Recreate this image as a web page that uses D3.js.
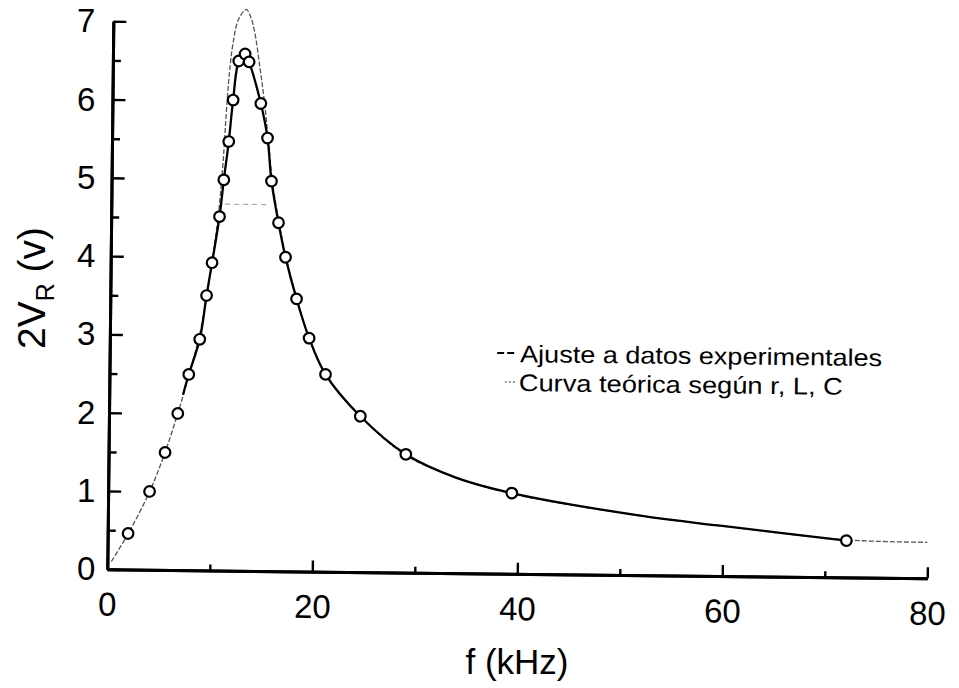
<!DOCTYPE html>
<html>
<head>
<meta charset="utf-8">
<script src="https://cdn.jsdelivr.net/npm/d3@7"></script>
<style>
  html, body { margin: 0; padding: 0; background: #fff; }
  svg { display: block; font-family: "Liberation Sans", Arial, sans-serif; }
</style>
</head>
<body>
<svg id="chart" width="959" height="688"></svg>
<script>
// ---- data ----
const freq = [1.99, 4.04, 5.51, 6.71, 7.74, 8.77, 9.39, 9.89, 10.57, 10.95, 11.39, 11.77, 12.28, 12.89, 13.29, 14.48, 15.17, 15.60, 16.33, 17.05, 18.17, 19.44, 21.08, 24.52, 29.0, 39.38, 72.07];
const volt = [0.46, 1.00, 1.50, 2.00, 2.50, 2.95, 3.51, 3.93, 4.52, 4.99, 5.48, 6.01, 6.51, 6.60, 6.50, 5.97, 5.53, 4.98, 4.45, 4.01, 3.48, 2.98, 2.52, 1.99, 1.51, 1.03, 0.47];

const fitF = [7.2, 7.74, 8.77, 9.39, 9.89, 10.57, 10.95, 11.39, 11.77, 12.28, 12.89, 13.29, 14.48, 15.17, 15.60, 16.33, 17.05, 18.17, 19.44, 21.08, 24.52, 29.0, 33.9, 39.38, 51.94, 59.95, 72.07];
const fitV = [2.24, 2.50, 2.95, 3.51, 3.93, 4.52, 4.99, 5.48, 6.01, 6.51, 6.62, 6.50, 5.97, 5.53, 4.98, 4.45, 4.01, 3.48, 2.98, 2.52, 1.99, 1.51, 1.22, 1.03, 0.76, 0.64, 0.47];

const theoF = [0.39, 1.96, 4.02, 5.48, 6.73, 7.79, 8.75, 9.41, 9.96, 10.51, 10.86, 11.14, 11.41, 11.71, 12.21, 12.96, 13.41, 13.82, 14.34, 14.80, 15.24, 15.68, 16.38, 17.12, 18.21, 19.45, 21.09, 24.54, 28.98, 33.9, 39.42, 51.94, 59.95, 71.97, 79.97];
const theoV = [0.10, 0.45, 0.99, 1.49, 2.01, 2.51, 3.01, 3.51, 4.01, 4.62, 5.22, 5.89, 6.40, 6.74, 7.04, 7.17, 7.07, 6.87, 6.44, 6.02, 5.52, 4.99, 4.45, 4.00, 3.48, 2.98, 2.51, 1.99, 1.50, 1.22, 1.02, 0.76, 0.64, 0.48, 0.46];

const halfPowerF = [11.1, 15.5];
const halfPowerV = 4.68;

const xMajor = [0, 20, 40, 60, 80];
const xMinor = [10, 30, 50, 70];
const yMajor = [0, 1, 2, 3, 4, 5, 6, 7];
const yMinor = [0.5, 1.5, 2.5, 3.5, 4.5, 5.5, 6.5];

const xTitle = "f (kHz)";
const legendFit = "Ajuste a datos experimentales";
const legendTheo = "Curva teórica según r, L, C";

// ---- layout ----
const svg = d3.select("#chart");
svg.append("rect").attr("width", 959).attr("height", 688).attr("fill", "#fff");

const ox = 107.3, oy = 569.3;
const x = d3.scaleLinear().domain([0, 80]).range([0, 820]);
const y = d3.scaleLinear().domain([0, 7]).range([0, -548.1]);

// the scanned figure is tilted slightly clockwise
const g = svg.append("g")
  .attr("transform", `translate(${ox},${oy}) rotate(0.63)`);

// axes
const fs = 33;
const xAxisMinor = d3.axisBottom(x).tickValues(xMinor).tickSizeInner(-6).tickSizeOuter(0).tickFormat("");
const xAxisMajor = d3.axisBottom(x).tickValues(xMajor).tickSizeInner(-11).tickSizeOuter(0).tickPadding(23).tickFormat(d3.format("d"));
const yAxisMinor = d3.axisLeft(y).tickValues(yMinor).tickSizeInner(-8).tickSizeOuter(0).tickFormat("");
const yAxisMajor = d3.axisLeft(y).tickValues(yMajor).tickSizeInner(-13).tickSizeOuter(0).tickFormat("");
const yAxisLabels = d3.axisLeft(y).tickValues(yMajor).tickSize(0).tickPadding(12).tickFormat(d3.format("d"));

function styleAxis(sel) {
  sel.select(".domain").attr("stroke", "#000").attr("stroke-width", 3);
  sel.selectAll(".tick line").attr("stroke", "#000").attr("stroke-width", 2.4);
  sel.selectAll(".tick text").attr("fill", "#000").style("font-size", fs + "px")
    .style("font-family", '"Liberation Sans", Arial, sans-serif');
}
g.append("g").call(xAxisMinor).call(styleAxis);
g.append("g").call(xAxisMajor).call(styleAxis);
g.append("g").call(yAxisMinor).call(styleAxis);
g.append("g").call(yAxisMajor).call(styleAxis);
// y tick labels stay upright in a straight column, as in the reference
svg.append("g").attr("transform", `translate(${ox},${oy})`)
  .call(yAxisLabels).call(styleAxis)
  .call(s => s.select(".domain").remove());

// half-power dashed marker
g.append("line")
  .attr("x1", x(halfPowerF[0])).attr("x2", x(halfPowerF[1]))
  .attr("y1", y(halfPowerV)).attr("y2", y(halfPowerV))
  .attr("stroke", "#aaa").attr("stroke-width", 1.2).attr("stroke-dasharray", "5,4");

// theoretical curve
const theoData = theoF.map((f, i) => [f, theoV[i]]);
g.append("path")
  .datum(theoData)
  .attr("d", d3.line().x(d => x(d[0])).y(d => y(d[1])).curve(d3.curveCatmullRom.alpha(0.5)))
  .attr("fill", "none").attr("stroke", "#555").attr("stroke-width", 1.3)
  .attr("stroke-dasharray", "5,2");

// fit curve
const fitData = fitF.map((f, i) => [f, fitV[i]]);
g.append("path")
  .datum(fitData)
  .attr("d", d3.line().x(d => x(d[0])).y(d => y(d[1])).curve(d3.curveCatmullRom.alpha(0.5)))
  .attr("fill", "none").attr("stroke", "#000").attr("stroke-width", 2.3);

// data points
const pts = freq.map((f, i) => [f, volt[i]]);
g.selectAll("circle.pt").data(pts).enter().append("circle")
  .attr("class", "pt")
  .attr("cx", d => x(d[0])).attr("cy", d => y(d[1]))
  .attr("r", 5.3)
  .attr("fill", "#fff").attr("stroke", "#000").attr("stroke-width", 2.2);

// axis titles
svg.append("text")
  .attr("x", 517).attr("y", 674)
  .attr("text-anchor", "middle")
  .style("font-size", "35px").attr("fill", "#000")
  .text(xTitle);

const yt = svg.append("text")
  .attr("transform", "translate(45,288) rotate(-90)")
  .attr("text-anchor", "middle")
  .style("font-size", "39px").attr("fill", "#000");
yt.append("tspan").text("2V");
yt.append("tspan").text("R").style("font-size", "25px").attr("dy", 9);
yt.append("tspan").text(" (v)").attr("dy", -9);

// legend
const lg = svg.append("g").attr("transform", "rotate(0.63, 690, 370)");
lg.append("line").attr("x1", 497).attr("x2", 504).attr("y1", 355).attr("y2", 355)
  .attr("stroke", "#000").attr("stroke-width", 2);
lg.append("line").attr("x1", 507).attr("x2", 514).attr("y1", 355).attr("y2", 355)
  .attr("stroke", "#000").attr("stroke-width", 2);
lg.append("text").attr("x", 520).attr("y", 364)
  .attr("textLength", 362).attr("lengthAdjust", "spacingAndGlyphs")
  .style("font-size", "24px").attr("fill", "#000").text(legendFit);
lg.append("line").attr("x1", 505).attr("x2", 516).attr("y1", 384).attr("y2", 384)
  .attr("stroke", "#777").attr("stroke-width", 1.5).attr("stroke-dasharray", "2,2");
lg.append("text").attr("x", 519).attr("y", 393)
  .attr("textLength", 324).attr("lengthAdjust", "spacingAndGlyphs")
  .style("font-size", "24px").attr("fill", "#000").text(legendTheo);
</script>
</body>
</html>
